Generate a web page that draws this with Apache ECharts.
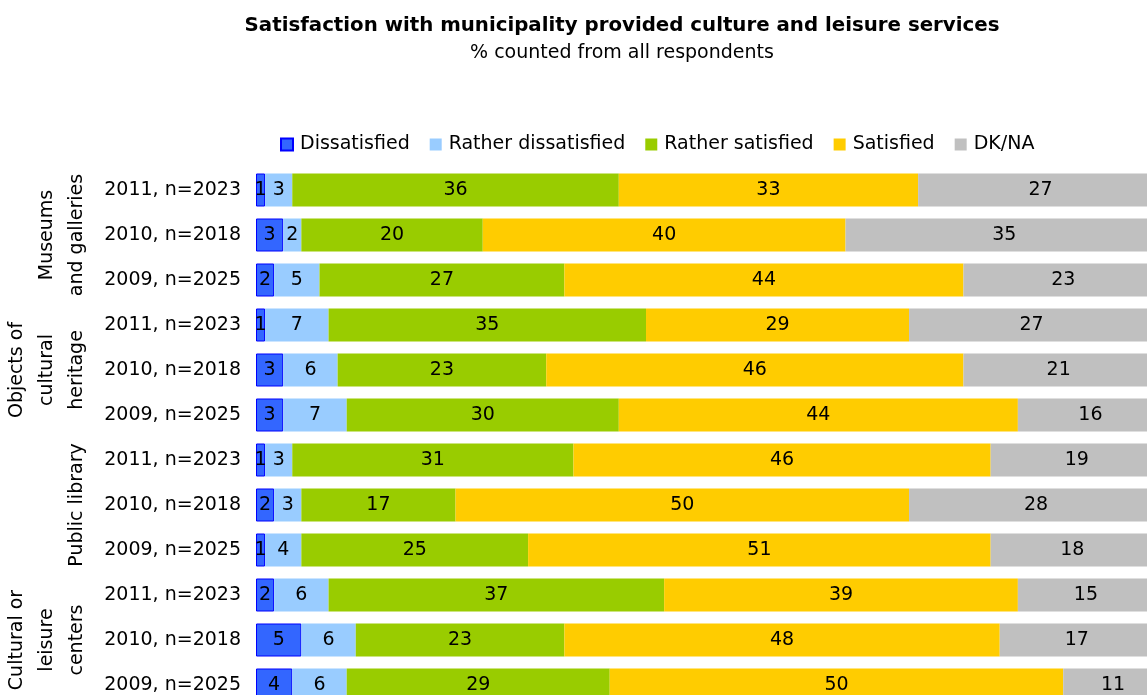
<!DOCTYPE html>
<html>
<head>
<meta charset="utf-8">
<script src="https://cdn.jsdelivr.net/npm/echarts@6/dist/echarts.min.js"></script>
<style>
  html, body { margin: 0; padding: 0; background: #fff; overflow: hidden; }
  /* the plot runs past the window's right and bottom edges */
  #chart { width: 1163px; height: 708px; }
</style>
</head>
<body>
<div id="chart"></div>
<script>
// Survey rows, top to bottom: four service groups, three survey years each
const groups = ['Museums\nand galleries', 'Objects of\ncultural\nheritage', 'Public library', 'Cultural or\nleisure\ncenters'];
const years = ['2011, n=2023', '2010, n=2018', '2009, n=2025'];

const seriesNames = ['Dissatisfied', 'Rather dissatisfied', 'Rather satisfied', 'Satisfied', 'DK/NA'];
const dissatisfied       = [1, 3, 2,  1, 3, 3,  1, 2, 1,  2, 5, 4];
const ratherDissatisfied = [3, 2, 5,  7, 6, 7,  3, 3, 4,  6, 6, 6];
const ratherSatisfied    = [36, 20, 27,  35, 23, 30,  31, 17, 25,  37, 23, 29];
const satisfied          = [33, 40, 44,  29, 46, 44,  46, 50, 51,  39, 48, 50];
const dkna               = [27, 35, 23,  27, 21, 16,  19, 28, 18,  15, 17, 11];

const colors = ['#3366FF', '#99CCFF', '#99CC00', '#FFCC00', '#C0C0C0'];
const FONT = 'DejaVu Sans';

// unique category keys: group index + year label
const categories = [];
groups.forEach((g, gi) => years.forEach(y => categories.push(gi + '|' + y)));

const values = [dissatisfied, ratherDissatisfied, ratherSatisfied, satisfied, dkna];

const chart = echarts.init(document.getElementById('chart'), null, { renderer: 'canvas' });

const series = seriesNames.map((name, i) => ({
  name: name,
  type: 'bar',
  stack: 'total',
  barWidth: 33,
  data: values[i],
  itemStyle: i === 0
    ? { color: colors[i], borderColor: '#0000FF', borderWidth: 1, borderRadius: 0 }
    : { color: colors[i], borderRadius: 0 },
  label: {
    show: true,
    position: 'inside',
    color: '#000',
    fontFamily: FONT,
    fontSize: 19
  },
  emphasis: { disabled: true }
}));

chart.setOption({
  animation: false,
  backgroundColor: '#fff',
  title: {
    text: 'Satisfaction with municipality provided culture and leisure services',
    subtext: '% counted from all respondents',
    left: 617,
    top: 11,
    textAlign: 'center',
    itemGap: 8,
    textStyle: { fontFamily: FONT, fontSize: 19.8, fontWeight: 'bold', color: '#000' },
    subtextStyle: { fontFamily: FONT, fontSize: 19, color: '#000' }
  },
  legend: {
    data: seriesNames,
    left: 275,
    top: 130,
    itemWidth: 12,
    itemHeight: 12,
    itemGap: 20,
    icon: 'rect',
    textStyle: { fontFamily: FONT, fontSize: 19, color: '#000', padding: [0, 0, 0, 2] }
  },
  grid: {
    left: 256,
    right: 0,
    top: 167.5,
    bottom: 0.5,
    containLabel: false
  },
  xAxis: {
    type: 'value',
    min: 0,
    max: 100,
    show: false
  },
  yAxis: {
    type: 'category',
    inverse: true,
    data: categories,
    axisLine: { show: false },
    axisTick: { show: false },
    axisLabel: {
      margin: 15,
      fontFamily: FONT,
      fontSize: 19,
      color: '#000',
      formatter: v => v.split('|')[1]
    }
  },
  series: series
});

// rotated group captions beside each block of three rows
const graphics = groups.map((g, gi) => {
  const y = chart.convertToPixel({ yAxisIndex: 0 }, categories[gi * 3 + 1]);
  return {
    type: 'text',
    x: 92,
    y: y,
    rotation: Math.PI / 2,
    style: {
      text: g,
      fontFamily: FONT,
      fontSize: 19,
      lineHeight: 30,
      fill: '#000',
      align: 'center',
      verticalAlign: 'bottom'
    }
  };
});
chart.setOption({ graphic: graphics });
</script>
</body>
</html>
